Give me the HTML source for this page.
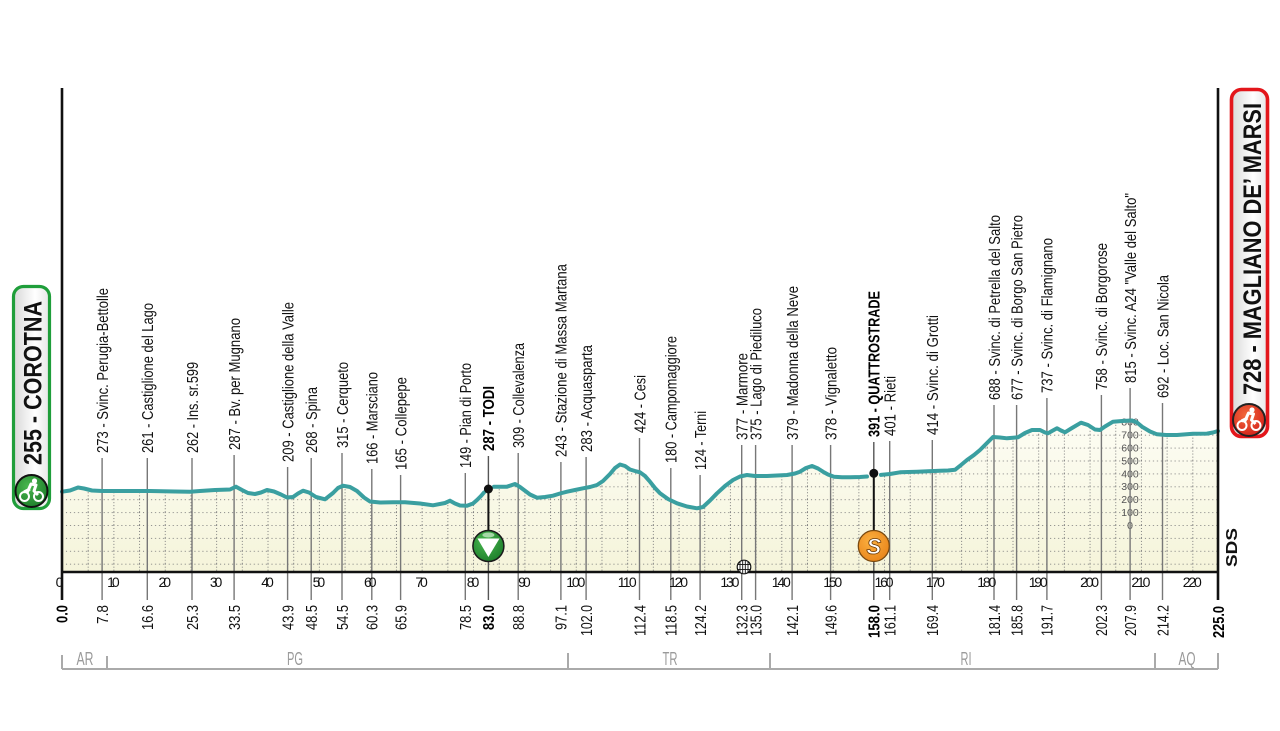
<!DOCTYPE html>
<html><head><meta charset="utf-8"><style>
html,body{margin:0;padding:0;background:#fff;}
svg{display:block;}
.lb{font-family:"Liberation Sans Narrow","Liberation Sans",sans-serif;font-size:16px;fill:#111;}
.lbb{font-family:"Liberation Sans Narrow","Liberation Sans",sans-serif;font-size:16px;fill:#000;font-weight:bold;}
.km{font-family:"Liberation Sans Narrow","Liberation Sans",sans-serif;font-size:16px;fill:#111;}
.kmb{font-family:"Liberation Sans Narrow","Liberation Sans",sans-serif;font-size:16px;fill:#000;font-weight:bold;}
.tk{font-family:"Liberation Sans Narrow","Liberation Sans",sans-serif;font-size:14px;fill:#111;text-anchor:middle;}
.rg{font-family:"Liberation Sans Narrow","Liberation Sans",sans-serif;font-size:18px;fill:#9a9a9a;text-anchor:middle;}
.el{font-family:"Liberation Sans Narrow","Liberation Sans",sans-serif;font-size:10.5px;fill:#555;text-anchor:middle;}
.bd{font-family:"Liberation Sans","DejaVu Sans",sans-serif;font-size:25px;font-weight:bold;fill:#111;}
</style></head><body>
<svg width="1280" height="731" viewBox="0 0 1280 731" xmlns="http://www.w3.org/2000/svg">
<defs>
<linearGradient id="fg" x1="0" y1="420" x2="0" y2="572" gradientUnits="userSpaceOnUse">
<stop offset="0" stop-color="#fdfdf4"/><stop offset="1" stop-color="#f5f4da"/>
</linearGradient>
<pattern id="grid" patternUnits="userSpaceOnUse" x="62" y="525" width="25.689" height="12.9">
<line x1="0" y1="0.5" x2="25.689" y2="0.5" stroke="#7e7e7e" stroke-width="1" stroke-dasharray="1 3"/>
<line x1="0.5" y1="0" x2="0.5" y2="12.9" stroke="#7e7e7e" stroke-width="1" stroke-dasharray="1 2"/>
</pattern>
<linearGradient id="gb" x1="0" y1="0" x2="1" y2="0">
<stop offset="0" stop-color="#d8d8d8"/><stop offset="0.6" stop-color="#ffffff"/><stop offset="1" stop-color="#e6e6e6"/>
</linearGradient>
<radialGradient id="gc" cx="0.4" cy="0.35" r="0.7">
<stop offset="0" stop-color="#49b84f"/><stop offset="1" stop-color="#1d7d2a"/>
</radialGradient>
<radialGradient id="rc" cx="0.4" cy="0.35" r="0.7">
<stop offset="0" stop-color="#f26a3c"/><stop offset="1" stop-color="#d4201a"/>
</radialGradient>
<radialGradient id="oc" cx="0.4" cy="0.35" r="0.7">
<stop offset="0" stop-color="#fbb040"/><stop offset="1" stop-color="#e8841a"/>
</radialGradient>
<polygon id="fillp" points="62,491.7 70,490.5 78,487.5 84,488.5 92,490.5 102,491 130,491 150,491 175,491.5 190,491.7 200,491 215,490 230,489.5 236,486.7 242,490 248,493 255,494 261,492.5 267,490 274,491.5 281,494.5 287,497.5 293,497 298,493.5 303,490.7 309,492.5 316,497 325,499.3 333,493 338,488 343,485.7 350,487 357,491 364,497.5 370,501.5 380,502.5 393,502.3 405,502.3 420,503.5 433,505.3 445,503 450,500.7 455,503.5 460,505.5 467,505.7 473,503.5 477,500 481,496 485,491.7 488,489 492,487 500,486.7 507,486.7 515,484 520,487 524,490 530,494.5 537,497.7 545,497 553,495.7 560,493.5 567,491.7 575,490 583,488.3 590,487 597,485 603,481 610,474 615,468 620,464.5 625,466 630,469.5 635,471 640,472.3 645,476 650,481.7 655,488 660,493.3 668,499 677,503.3 687,506.5 697,508.3 703,507 710,500.5 717,493.3 725,486 733,480 740,476.5 747,475 755,476 767,476 777,475.5 787,475 795,473.5 800,471.7 806,468 812,466 818,468.5 823,471.7 828,474.5 834,476.7 842,477.3 850,477.3 860,477 868,476.5 874,474 880,475 890,474 900,472.3 908,472 917,471.7 928,471.3 940,470.7 948,470.5 955,469.8 961,465 967,460 974,455 980,450 987,443 993,437 1000,437.5 1007,438.3 1013,437.8 1018,437.3 1025,433 1032,430 1040,430 1045,432.5 1048,433.3 1052,431 1057,428.3 1061,430.5 1065,432.3 1072,428 1081,422.7 1088,425 1095,429.5 1100,430 1105,426.5 1113,421.7 1122,421 1132,420.5 1137,422.5 1142,426.7 1150,431.5 1157,434.3 1166,435 1177,435 1193,433.8 1207,433.6 1213,432.5 1218,431 1218,572 62,572"/>
</defs>

<!-- fill -->
<use href="#fillp" fill="url(#fg)"/>
<use href="#fillp" fill="url(#grid)"/>

<!-- elevation scale -->
<g class="el">
<text x="1130" y="529">0</text>
<text x="1130" y="516">100</text>
<text x="1130" y="503">200</text>
<text x="1130" y="490">300</text>
<text x="1130" y="477.5">400</text>
<text x="1130" y="464.5">500</text>
<text x="1130" y="451.5">600</text>
<text x="1130" y="438.5">700</text>
<text x="1130" y="425.5">800</text>
</g>

<!-- label lines -->
<g stroke="#777" stroke-width="1.4" fill="none">
<line x1="102.1" y1="458" x2="102.1" y2="600"/>
<line x1="147.3" y1="458" x2="147.3" y2="600"/>
<line x1="192.0" y1="458" x2="192.0" y2="600"/>
<line x1="234.1" y1="455" x2="234.1" y2="600"/>
<line x1="287.6" y1="467" x2="287.6" y2="600"/>
<line x1="311.2" y1="458" x2="311.2" y2="600"/>
<line x1="342.0" y1="453" x2="342.0" y2="600"/>
<line x1="371.8" y1="469" x2="371.8" y2="600"/>
<line x1="400.6" y1="475" x2="400.6" y2="600"/>
<line x1="465.3" y1="473" x2="465.3" y2="600"/>
<line x1="488.4" y1="456" x2="488.4" y2="600" stroke="#555"/>
<line x1="518.2" y1="453" x2="518.2" y2="600"/>
<line x1="560.9" y1="462" x2="560.9" y2="600"/>
<line x1="586.1" y1="457" x2="586.1" y2="600"/>
<line x1="639.5" y1="438" x2="639.5" y2="600"/>
<line x1="670.8" y1="468" x2="670.8" y2="600"/>
<line x1="700.1" y1="475" x2="700.1" y2="600"/>
<line x1="741.7" y1="445" x2="741.7" y2="600"/>
<line x1="755.6" y1="445" x2="755.6" y2="600"/>
<line x1="792.1" y1="445" x2="792.1" y2="600"/>
<line x1="830.6" y1="445" x2="830.6" y2="600"/>
<line x1="873.8" y1="442" x2="873.8" y2="600" stroke="#555"/>
<line x1="889.7" y1="441" x2="889.7" y2="600"/>
<line x1="932.3" y1="440" x2="932.3" y2="600"/>
<line x1="994.0" y1="405" x2="994.0" y2="600"/>
<line x1="1016.6" y1="405" x2="1016.6" y2="600"/>
<line x1="1046.9" y1="398" x2="1046.9" y2="600"/>
<line x1="1101.4" y1="395" x2="1101.4" y2="600"/>
<line x1="1130.1" y1="388" x2="1130.1" y2="600"/>
<line x1="1162.5" y1="403" x2="1162.5" y2="600"/>
</g>

<!-- profile line -->
<g fill="none" stroke="#3a9fa0" stroke-width="4" stroke-linejoin="round" stroke-linecap="round">
<polyline points="62,491.7 70,490.5 78,487.5 84,488.5 92,490.5 102,491 130,491 150,491 175,491.5 190,491.7 200,491 215,490 230,489.5 236,486.7 242,490 248,493 255,494 261,492.5 267,490 274,491.5 281,494.5 287,497.5 293,497 298,493.5 303,490.7 309,492.5 316,497 325,499.3 333,493 338,488 343,485.7 350,487 357,491 364,497.5 370,501.5 380,502.5 393,502.3 405,502.3 420,503.5 433,505.3 445,503 450,500.7 455,503.5 460,505.5 467,505.7 473,503.5 477,500 481,496 484,492.5"/>
<polyline points="494,486.8 500,486.7 507,486.7 515,484 520,487 524,490 530,494.5 537,497.7 545,497 553,495.7 560,493.5 567,491.7 575,490 583,488.3 590,487 597,485 603,481 610,474 615,468 620,464.5 625,466 630,469.5 635,471 640,472.3 645,476 650,481.7 655,488 660,493.3 668,499 677,503.3 687,506.5 697,508.3 703,507 710,500.5 717,493.3 725,486 733,480 740,476.5 747,475 755,476 767,476 777,475.5 787,475 795,473.5 800,471.7 806,468 812,466 818,468.5 823,471.7 828,474.5 834,476.7 842,477.3 850,477.3 860,477 867,476.5"/>
<polyline points="881,474.9 890,474 900,472.3 908,472 917,471.7 928,471.3 940,470.7 948,470.5 955,469.8 961,465 967,460 974,455 980,450 987,443 993,437 1000,437.5 1007,438.3 1013,437.8 1018,437.3 1025,433 1032,430 1040,430 1045,432.5 1048,433.3 1052,431 1057,428.3 1061,430.5 1065,432.3 1072,428 1081,422.7 1088,425 1095,429.5 1100,430 1105,426.5 1113,421.7 1122,421 1132,420.5 1137,422.5 1142,426.7 1150,431.5 1157,434.3 1166,435 1177,435 1193,433.8 1207,433.6 1213,432.5 1218,431"/>
</g>

<!-- axes -->
<g stroke="#111" stroke-width="2.6">
<line x1="62" y1="88" x2="62" y2="600"/>
<line x1="1218" y1="88" x2="1218" y2="600"/>
<line x1="61" y1="572" x2="1219" y2="572"/>
</g>

<!-- TODI marker -->
<line x1="488.4" y1="489" x2="488.4" y2="532" stroke="#111" stroke-width="2"/>
<circle cx="488.4" cy="489" r="4.5" fill="#111"/>
<circle cx="488.4" cy="546" r="15.5" fill="url(#gc)" stroke="#1a1a1a" stroke-width="1.5"/>
<ellipse cx="488.4" cy="535" rx="6" ry="2.5" fill="#bfe6bf" opacity="0.8"/>
<polygon points="477.5,538.5 499.5,538.5 488.4,557" fill="#fff"/>

<!-- QUATTROSTRADE marker -->
<line x1="873.8" y1="473.3" x2="873.8" y2="532" stroke="#111" stroke-width="2"/>
<circle cx="873.8" cy="473.3" r="4.5" fill="#111"/>
<circle cx="873.8" cy="546" r="15.5" fill="url(#oc)" stroke="#7a4a10" stroke-width="1.3"/>
<text x="873.8" y="554" text-anchor="middle" font-family="Liberation Sans, sans-serif" font-size="22" font-weight="bold" font-style="italic" fill="#fff" stroke="#6a3a08" stroke-width="0.8">S</text>

<!-- railway icon -->
<circle cx="744" cy="567" r="6.8" fill="#fff" stroke="#111" stroke-width="1.2"/>
<g stroke="#111" stroke-width="0.9">
<line x1="740" y1="562" x2="740" y2="572"/><line x1="742.7" y1="561" x2="742.7" y2="573"/>
<line x1="745.3" y1="561" x2="745.3" y2="573"/><line x1="748" y1="562" x2="748" y2="572"/>
<line x1="738" y1="564.5" x2="750" y2="564.5"/><line x1="738" y1="569.5" x2="750" y2="569.5"/>
</g>

<!-- tick labels -->
<g class="tk">
<text x="59.5" y="587" textLength="7">0</text>
<text x="113.4" y="587" textLength="12.5">10</text>
<text x="164.8" y="587" textLength="12.5">20</text>
<text x="216.1" y="587" textLength="12.5">30</text>
<text x="267.5" y="587" textLength="12.5">40</text>
<text x="318.9" y="587" textLength="12.5">50</text>
<text x="370.3" y="587" textLength="12.5">60</text>
<text x="421.6" y="587" textLength="12.5">70</text>
<text x="473.0" y="587" textLength="12.5">80</text>
<text x="524.4" y="587" textLength="12.5">90</text>
<text x="575.8" y="587" textLength="19">100</text>
<text x="627.2" y="587" textLength="19">110</text>
<text x="678.5" y="587" textLength="19">120</text>
<text x="729.9" y="587" textLength="19">130</text>
<text x="781.3" y="587" textLength="19">140</text>
<text x="832.7" y="587" textLength="19">150</text>
<text x="884.0" y="587" textLength="19">160</text>
<text x="935.4" y="587" textLength="19">170</text>
<text x="986.8" y="587" textLength="19">180</text>
<text x="1038.2" y="587" textLength="19">190</text>
<text x="1089.6" y="587" textLength="19">200</text>
<text x="1140.9" y="587" textLength="19">210</text>
<text x="1192.3" y="587" textLength="19">220</text>
</g>

<!-- top labels -->
<g class="lb">
<text transform="translate(107.9,453) rotate(-90)" textLength="165" lengthAdjust="spacingAndGlyphs">273 - Svinc. Perugia-Bettolle</text>
<text transform="translate(153.1,453) rotate(-90)" textLength="150" lengthAdjust="spacingAndGlyphs">261 - Castiglione del Lago</text>
<text transform="translate(197.8,453) rotate(-90)" textLength="91" lengthAdjust="spacingAndGlyphs">262 - Ins. sr.599</text>
<text transform="translate(239.9,450) rotate(-90)" textLength="132" lengthAdjust="spacingAndGlyphs">287 - Bv. per Mugnano</text>
<text transform="translate(293.4,462) rotate(-90)" textLength="160" lengthAdjust="spacingAndGlyphs">209 - Castiglione della Valle</text>
<text transform="translate(317.0,453) rotate(-90)" textLength="66" lengthAdjust="spacingAndGlyphs">268 - Spina</text>
<text transform="translate(347.8,448) rotate(-90)" textLength="86" lengthAdjust="spacingAndGlyphs">315 - Cerqueto</text>
<text transform="translate(377.6,464) rotate(-90)" textLength="92" lengthAdjust="spacingAndGlyphs">166 - Marsciano</text>
<text transform="translate(406.4,470) rotate(-90)" textLength="93" lengthAdjust="spacingAndGlyphs">165 - Collepepe</text>
<text transform="translate(471.1,468) rotate(-90)" textLength="105" lengthAdjust="spacingAndGlyphs">149 - Pian di Porto</text>
<text transform="translate(524.0,448) rotate(-90)" textLength="105" lengthAdjust="spacingAndGlyphs">309 - Collevalenza</text>
<text transform="translate(566.7,457) rotate(-90)" textLength="193" lengthAdjust="spacingAndGlyphs">243 - Stazione di Massa Martana</text>
<text transform="translate(591.9,452) rotate(-90)" textLength="107" lengthAdjust="spacingAndGlyphs">283 - Acquasparta</text>
<text transform="translate(645.3,433) rotate(-90)" textLength="58" lengthAdjust="spacingAndGlyphs">424 - Cesi</text>
<text transform="translate(676.6,463) rotate(-90)" textLength="127" lengthAdjust="spacingAndGlyphs">180 - Campomaggiore</text>
<text transform="translate(705.9,470) rotate(-90)" textLength="59" lengthAdjust="spacingAndGlyphs">124 - Terni</text>
<text transform="translate(747.5,440) rotate(-90)" textLength="87" lengthAdjust="spacingAndGlyphs">377 - Marmore</text>
<text transform="translate(761.4,440) rotate(-90)" textLength="132" lengthAdjust="spacingAndGlyphs">375 - Lago di Piediluco</text>
<text transform="translate(797.9,440) rotate(-90)" textLength="154" lengthAdjust="spacingAndGlyphs">379 - Madonna della Neve</text>
<text transform="translate(836.4,440) rotate(-90)" textLength="93" lengthAdjust="spacingAndGlyphs">378 - Vignaletto</text>
<text transform="translate(895.5,436) rotate(-90)" textLength="60" lengthAdjust="spacingAndGlyphs">401 - Rieti</text>
<text transform="translate(938.1,435) rotate(-90)" textLength="120" lengthAdjust="spacingAndGlyphs">414 - Svinc. di Grotti</text>
<text transform="translate(999.8,400) rotate(-90)" textLength="185" lengthAdjust="spacingAndGlyphs">688 - Svinc. di Petrella del Salto</text>
<text transform="translate(1022.4,400) rotate(-90)" textLength="185" lengthAdjust="spacingAndGlyphs">677 - Svinc. di Borgo San Pietro</text>
<text transform="translate(1052.7,393) rotate(-90)" textLength="155" lengthAdjust="spacingAndGlyphs">737 - Svinc. di Flamignano</text>
<text transform="translate(1107.2,390) rotate(-90)" textLength="147" lengthAdjust="spacingAndGlyphs">758 - Svinc. di Borgorose</text>
<text transform="translate(1135.9,383) rotate(-90)" textLength="190" lengthAdjust="spacingAndGlyphs">815 - Svinc. A24 &quot;Valle del Salto&quot;</text>
<text transform="translate(1168.3,398) rotate(-90)" textLength="123" lengthAdjust="spacingAndGlyphs">692 - Loc. San Nicola</text>
</g>
<g class="lbb">
<text transform="translate(494.2,451) rotate(-90)" textLength="65" lengthAdjust="spacingAndGlyphs">287 - TODI</text>
<text transform="translate(879.6,437) rotate(-90)" textLength="146" lengthAdjust="spacingAndGlyphs">391 - QUATTROSTRADE</text>
</g>

<!-- km labels -->
<g class="km">
<text transform="translate(107.9,624) rotate(-90)" textLength="19" lengthAdjust="spacingAndGlyphs">7.8</text>
<text transform="translate(153.1,630) rotate(-90)" textLength="25" lengthAdjust="spacingAndGlyphs">16.6</text>
<text transform="translate(197.8,630) rotate(-90)" textLength="25" lengthAdjust="spacingAndGlyphs">25.3</text>
<text transform="translate(239.9,630) rotate(-90)" textLength="25" lengthAdjust="spacingAndGlyphs">33.5</text>
<text transform="translate(293.4,630) rotate(-90)" textLength="25" lengthAdjust="spacingAndGlyphs">43.9</text>
<text transform="translate(317.0,630) rotate(-90)" textLength="25" lengthAdjust="spacingAndGlyphs">48.5</text>
<text transform="translate(347.8,630) rotate(-90)" textLength="25" lengthAdjust="spacingAndGlyphs">54.5</text>
<text transform="translate(377.6,630) rotate(-90)" textLength="25" lengthAdjust="spacingAndGlyphs">60.3</text>
<text transform="translate(406.4,630) rotate(-90)" textLength="25" lengthAdjust="spacingAndGlyphs">65.9</text>
<text transform="translate(471.1,630) rotate(-90)" textLength="25" lengthAdjust="spacingAndGlyphs">78.5</text>
<text transform="translate(524.0,630) rotate(-90)" textLength="25" lengthAdjust="spacingAndGlyphs">88.8</text>
<text transform="translate(566.7,630) rotate(-90)" textLength="25" lengthAdjust="spacingAndGlyphs">97.1</text>
<text transform="translate(591.9,636) rotate(-90)" textLength="31" lengthAdjust="spacingAndGlyphs">102.0</text>
<text transform="translate(645.3,636) rotate(-90)" textLength="31" lengthAdjust="spacingAndGlyphs">112.4</text>
<text transform="translate(676.6,636) rotate(-90)" textLength="31" lengthAdjust="spacingAndGlyphs">118.5</text>
<text transform="translate(705.9,636) rotate(-90)" textLength="31" lengthAdjust="spacingAndGlyphs">124.2</text>
<text transform="translate(747.5,636) rotate(-90)" textLength="31" lengthAdjust="spacingAndGlyphs">132.3</text>
<text transform="translate(761.4,636) rotate(-90)" textLength="31" lengthAdjust="spacingAndGlyphs">135.0</text>
<text transform="translate(797.9,636) rotate(-90)" textLength="31" lengthAdjust="spacingAndGlyphs">142.1</text>
<text transform="translate(836.4,636) rotate(-90)" textLength="31" lengthAdjust="spacingAndGlyphs">149.6</text>
<text transform="translate(895.5,636) rotate(-90)" textLength="31" lengthAdjust="spacingAndGlyphs">161.1</text>
<text transform="translate(938.1,636) rotate(-90)" textLength="31" lengthAdjust="spacingAndGlyphs">169.4</text>
<text transform="translate(999.8,636) rotate(-90)" textLength="31" lengthAdjust="spacingAndGlyphs">181.4</text>
<text transform="translate(1022.4,636) rotate(-90)" textLength="31" lengthAdjust="spacingAndGlyphs">185.8</text>
<text transform="translate(1052.7,636) rotate(-90)" textLength="31" lengthAdjust="spacingAndGlyphs">191.7</text>
<text transform="translate(1107.2,636) rotate(-90)" textLength="31" lengthAdjust="spacingAndGlyphs">202.3</text>
<text transform="translate(1135.9,636) rotate(-90)" textLength="31" lengthAdjust="spacingAndGlyphs">207.9</text>
<text transform="translate(1168.3,636) rotate(-90)" textLength="31" lengthAdjust="spacingAndGlyphs">214.2</text>
</g>
<g class="kmb">
<text transform="translate(67.5,623) rotate(-90)" textLength="18" lengthAdjust="spacingAndGlyphs">0.0</text>
<text transform="translate(494.2,630) rotate(-90)" textLength="25" lengthAdjust="spacingAndGlyphs">83.0</text>
<text transform="translate(879.6,638) rotate(-90)" textLength="33" lengthAdjust="spacingAndGlyphs">158.0</text>
<text transform="translate(1223.8,638) rotate(-90)" textLength="32" lengthAdjust="spacingAndGlyphs">225.0</text>
</g>

<!-- region bracket -->
<g stroke="#aaa" stroke-width="2" fill="none">
<line x1="62" y1="669" x2="1218" y2="669"/>
<line x1="62" y1="655" x2="62" y2="669"/>
<line x1="107" y1="656" x2="107" y2="669"/>
<line x1="568" y1="653" x2="568" y2="669"/>
<line x1="770" y1="653" x2="770" y2="669"/>
<line x1="1155" y1="653" x2="1155" y2="669"/>
<line x1="1218" y1="653" x2="1218" y2="669"/>
</g>
<g class="rg">
<text x="85" y="665" textLength="17" lengthAdjust="spacingAndGlyphs">AR</text>
<text x="295" y="665" textLength="16" lengthAdjust="spacingAndGlyphs">PG</text>
<text x="670" y="665" textLength="15" lengthAdjust="spacingAndGlyphs">TR</text>
<text x="966" y="665" textLength="11" lengthAdjust="spacingAndGlyphs">RI</text>
<text x="1187" y="665" textLength="17" lengthAdjust="spacingAndGlyphs">AQ</text>
</g>

<!-- SDS -->
<text transform="translate(1237,567) rotate(-90)" font-family="Liberation Sans, sans-serif" font-size="16" font-weight="bold" fill="#111" textLength="39" lengthAdjust="spacingAndGlyphs">SDS</text>

<!-- start badge -->
<rect x="13.5" y="286.5" width="36" height="222" rx="10" fill="url(#gb)" stroke="#1f9e3a" stroke-width="3.2"/>
<text class="bd" transform="translate(41.5,465) rotate(-90)" textLength="164" lengthAdjust="spacingAndGlyphs">255 - COROTNA</text>
<circle cx="31.5" cy="491" r="16" fill="url(#gc)" stroke="#111" stroke-width="2"/>
<g fill="none" stroke="#fff" stroke-width="2">
<circle cx="24.5" cy="496.5" r="4.5"/><circle cx="38.5" cy="496.5" r="4.5"/>
</g>
<path d="M27,493 L31,484 L36,485 L34,491 L38,495 M30,489 L24,492" stroke="#fff" stroke-width="3" fill="none" stroke-linejoin="round"/>
<circle cx="34.5" cy="481" r="2.6" fill="#fff"/>

<!-- finish badge -->
<rect x="1231.5" y="89.5" width="36" height="347" rx="10" fill="url(#gb)" stroke="#e3161b" stroke-width="3.6"/>
<text class="bd" transform="translate(1261,395) rotate(-90)" textLength="292" lengthAdjust="spacingAndGlyphs">728 - MAGLIANO DE’ MARSI</text>
<circle cx="1249" cy="420" r="16" fill="url(#rc)" stroke="#222" stroke-width="2"/>
<g fill="none" stroke="#fff" stroke-width="2">
<circle cx="1242" cy="425.5" r="4.5"/><circle cx="1256" cy="425.5" r="4.5"/>
</g>
<path d="M1244.5,422 L1248.5,413 L1253.5,414 L1251.5,420 L1255.5,424 M1247.5,418 L1241.5,421" stroke="#fff" stroke-width="3" fill="none" stroke-linejoin="round"/>
<circle cx="1252" cy="410" r="2.6" fill="#fff"/>
</svg>
</body></html>
